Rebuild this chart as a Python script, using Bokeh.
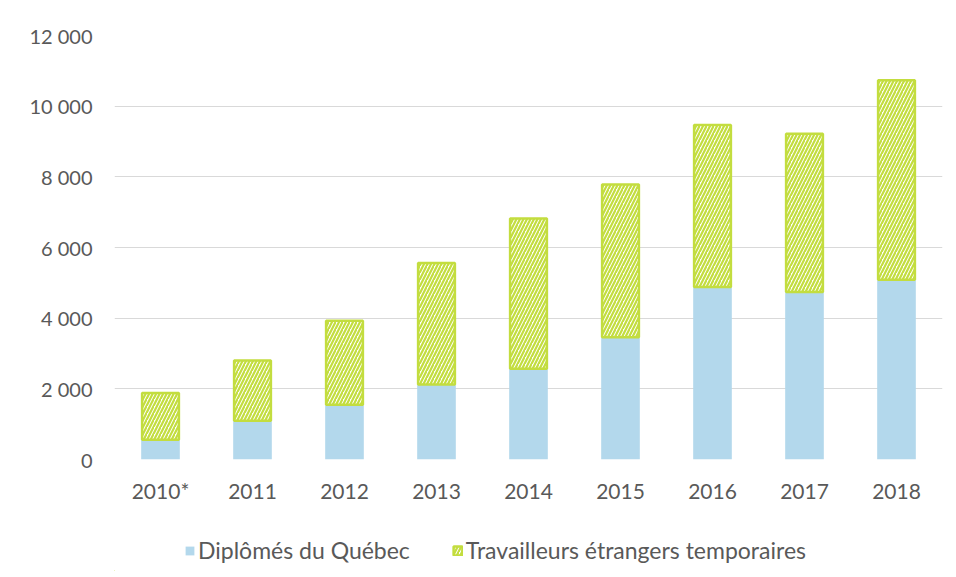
from bokeh.plotting import figure
from bokeh.models import ColumnDataSource, FixedTicker, Legend, LegendItem, Range1d
from bokeh.layouts import column
from bokeh.embed import file_html
from bokeh.resources import INLINE

years = ["2010*", "2011", "2012", "2013", "2014", "2015", "2016", "2017", "2018"]
diplomes = [560, 1100, 1550, 2120, 2570, 3460, 4880, 4740, 5090]
travailleurs = [1320, 1700, 2380, 3440, 4250, 4320, 4590, 4480, 5640]
y_ticks = [0, 2000, 4000, 6000, 8000, 10000, 12000]
y_tick_labels = ["0", "2 000", "4 000", "6 000", "8 000", "10 000", "12 000"]
series_names = ["Diplômés du Québec", "Travailleurs étrangers temporaires"]

BLUE = "#b3d8ec"
GREEN = "#c3dd3f"
TEXT = "#595959"
FONT = "Lato"

totals = [d + t for d, t in zip(diplomes, travailleurs)]
src = ColumnDataSource(dict(x=years, d=diplomes, t=totals))

blue_style = dict(fill_color=BLUE, line_color=None)
green_style = dict(fill_color="white", line_color=GREEN, line_width=2.5, hatch_pattern="/",
                   hatch_color=GREEN, hatch_scale=7, hatch_weight=2.2)

p = figure(x_range=years, y_range=(0, 12000), output_backend="svg", toolbar_location=None,
           frame_width=828, frame_height=424, min_border_left=114, min_border_right=6,
           min_border_top=35, min_border_bottom=50, background_fill_color="white",
           border_fill_color="white")
p.outline_line_color = None

p.vbar(x="x", top="d", bottom=0, width=0.42, source=src, **blue_style)
p.vbar(x="x", top="t", bottom="d", width=0.40, source=src, **green_style)

p.xgrid.grid_line_color = None
p.ygrid.grid_line_color = "#d9d9d9"
p.ygrid.grid_line_width = 1
p.yaxis.ticker = FixedTicker(ticks=y_ticks)
p.yaxis.major_label_overrides = {t: l for t, l in zip(y_ticks, y_tick_labels)}

for ax in (p.xaxis, p.yaxis):
    ax.axis_line_color = None
    ax.major_tick_line_color = None
    ax.minor_tick_line_color = None
    ax.major_label_text_color = TEXT
    ax.major_label_text_font = FONT
    ax.major_label_text_font_size = "20px"
p.yaxis.major_label_standoff = 16
p.xaxis.major_label_standoff = 12
p.xaxis.major_label_text_font_size = "21px"

# Legend strip below the chart (its swatch renderers sit outside the visible range)
lf = figure(width=948, height=62, x_range=Range1d(0, 1), y_range=Range1d(0, 1),
            x_axis_location=None, y_axis_location=None,
            output_backend="svg", toolbar_location=None, min_border=0,
            background_fill_color="white", border_fill_color="white")
lf.outline_line_color = None
lf.grid.visible = False
swatch = ColumnDataSource(dict(x=[-10], top=[-10]))
l1 = lf.vbar(x="x", top="top", width=0.1, source=swatch, **blue_style)
l2 = lf.vbar(x="x", top="top", width=0.1, source=swatch, **green_style)

legend = Legend(items=[LegendItem(label=series_names[0], renderers=[l1]),
                       LegendItem(label=series_names[1], renderers=[l2])],
                orientation="horizontal", location=(70, 7), border_line_color=None,
                label_text_font=FONT, label_text_font_size="23px", label_text_color=TEXT,
                glyph_width=11, glyph_height=11, spacing=42, label_standoff=3,
                padding=4, margin=0, background_fill_alpha=0)
lf.add_layout(legend, "center")

layout = column(p, lf, spacing=0)
open("out.html", "w").write(file_html(layout, INLINE))
